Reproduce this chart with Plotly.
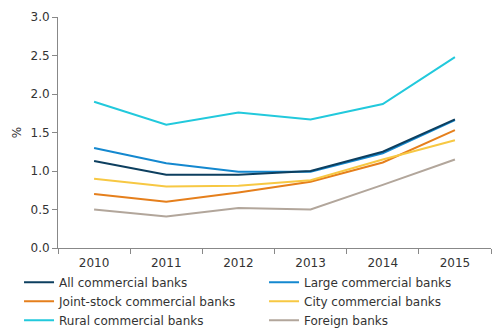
import plotly.graph_objects as go

years = ["2010", "2011", "2012", "2013", "2014", "2015"]
all_banks = [1.13, 0.95, 0.95, 1.00, 1.25, 1.67]
large_banks = [1.30, 1.10, 0.99, 0.99, 1.23, 1.66]
joint_stock = [0.70, 0.60, 0.72, 0.86, 1.11, 1.53]
city_banks = [0.90, 0.80, 0.81, 0.88, 1.15, 1.40]
rural_banks = [1.90, 1.60, 1.76, 1.67, 1.87, 2.48]
foreign_banks = [0.50, 0.41, 0.52, 0.50, 0.82, 1.15]

series = [
    ("All commercial banks", all_banks, "#0d3f5f"),
    ("Large commercial banks", large_banks, "#1488cf"),
    ("Joint-stock commercial banks", joint_stock, "#e57f1c"),
    ("City commercial banks", city_banks, "#f7c843"),
    ("Rural commercial banks", rural_banks, "#22c9dc"),
    ("Foreign banks", foreign_banks, "#b2a69b"),
]

fig = go.Figure()
draw_order = [4, 5, 2, 3, 1, 0]
for i in draw_order:
    name, vals, col = series[i]
    fig.add_trace(go.Scatter(x=years, y=vals, name=name, mode="lines",
                             line=dict(color=col, width=2), legendrank=i + 1))

font = dict(family="DejaVu Sans, Verdana, sans-serif", size=12, color="#333333")
lfont = dict(family="DejaVu Sans, Verdana, sans-serif", size=12, color="#333333")
fig.update_layout(
    width=500, height=333,
    margin=dict(l=58, r=9, t=17, b=85, autoexpand=False),
    paper_bgcolor="white", plot_bgcolor="white",
    font=font,
    showlegend=True,
    legend=dict(orientation="h", x=-0.09, xanchor="left",
                y=-0.086, yanchor="top",
                entrywidth=200, entrywidthmode="pixels", itemwidth=30,
                font=lfont, traceorder="normal", bgcolor="rgba(0,0,0,0)"),
    xaxis=dict(type="category", range=[-0.5, 5.5], showgrid=False, showline=True,
               linecolor="#888888", ticks="outside", ticklen=5, tickcolor="#888888",
               tickson="boundaries", tickfont=font, zeroline=False,
               ticklabelstandoff=4),
    yaxis=dict(range=[0, 3], dtick=0.5, tickformat=".1f", showgrid=False, showline=True,
               linecolor="#888888", ticks="outside", ticklen=5, tickcolor="#888888",
               tickfont=font, zeroline=False,
               title=dict(text="%", font=font, standoff=6)),
)

fig.write_html("out.html")
